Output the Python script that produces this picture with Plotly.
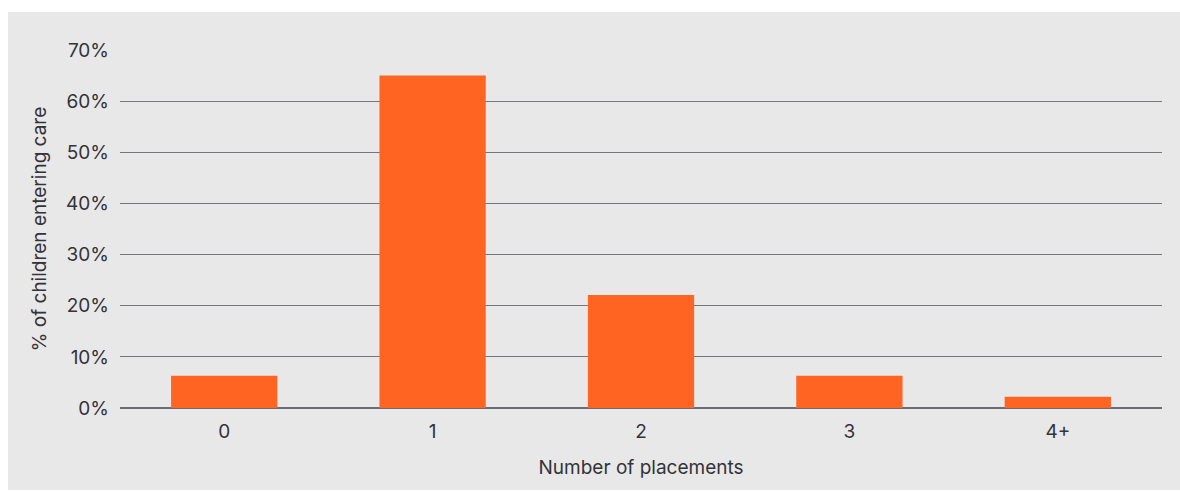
import plotly.graph_objects as go

categories = ["0", "1", "2", "3", "4+"]
values = [6.3, 65.0, 22.1, 6.3, 2.2]
y_ticks = [0, 10, 20, 30, 40, 50, 60, 70]
y_tick_labels = [f"{v}%" for v in y_ticks]

W, H = 1180, 491
L, R, T, B = 120, 18, 50, 83
pw, ph = W - L - R, H - T - B

fig = go.Figure(go.Bar(x=categories, y=values, marker=dict(color="#ff6422", line=dict(width=0)),
                       hoverinfo="skip"))

font = "Inter, 'Noto Sans', sans-serif"
fig.update_layout(
    width=W, height=H,
    margin=dict(l=L, r=R, t=T, b=B, pad=0),
    paper_bgcolor="white",
    plot_bgcolor="rgba(0,0,0,0)",
    bargap=0.49,
    showlegend=False,
    font=dict(family=font, size=19, color="#333338"),
    shapes=[dict(type="rect", xref="paper", yref="paper", layer="below",
                 x0=(8 - L) / pw, x1=(W - L) / pw, y0=-(B - 1) / ph, y1=(ph + T - 12) / ph,
                 fillcolor="#e8e8e8", line=dict(width=0))],
    xaxis=dict(title=dict(text="Number of placements", standoff=18, font=dict(size=19)),
               showgrid=False, zeroline=False, showline=False, ticks="",
               ticklabelstandoff=10),
    yaxis=dict(title=dict(text="% of children entering care", standoff=14, font=dict(size=19)),
               range=[0, 70], tickvals=y_ticks, ticktext=y_tick_labels,
               showgrid=True, gridcolor="#76777d", gridwidth=1.4,
               zeroline=True, zerolinecolor="#6c6d73", zerolinewidth=1.7,
               showline=False, ticks="", ticklabelstandoff=10),
)
fig.write_html("out.html", config={"displayModeBar": False},
               post_script="document.body.style.margin='0';document.body.style.overflow='hidden';")
